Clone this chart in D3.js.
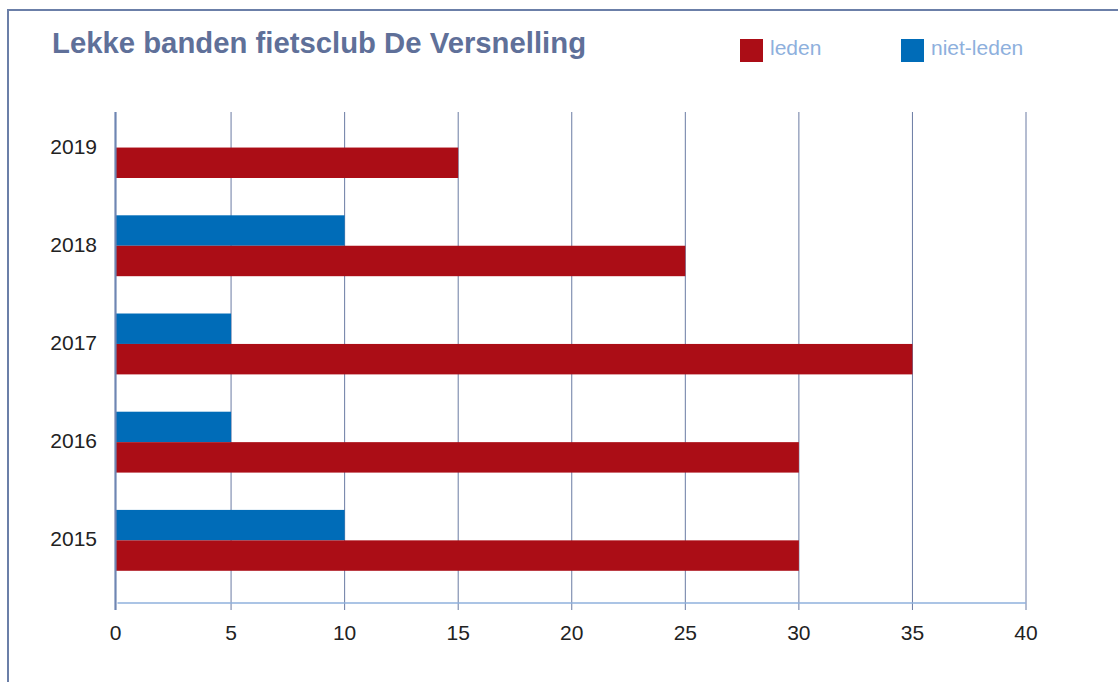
<!DOCTYPE html>
<html>
<head>
<meta charset="utf-8">
<script src="https://cdn.jsdelivr.net/npm/d3@7"></script>
<style>
  html, body { margin: 0; padding: 0; background: #fff; }
  svg { display: block; }
</style>
</head>
<body>
<svg id="chart" width="1118" height="682"></svg>
<script>
const years = ["2019", "2018", "2017", "2016", "2015"];
const series = ["niet-leden", "leden"];
const leden = [15, 25, 35, 30, 30];
const nietLeden = [0, 10, 5, 5, 10];
const xTicks = [0, 5, 10, 15, 20, 25, 30, 35, 40];
const titleText = "Lekke banden fietsclub De Versnelling";

const colors = { "leden": "#ab0d16", "niet-leden": "#006cb8" };
const font = "Liberation Sans, Arial, sans-serif";

const svg = d3.select("#chart");

// frame
svg.append("path")
  .attr("d", "M8,690 L8,10 L1130,10")
  .attr("fill", "none")
  .attr("stroke", "#6b7fa8")
  .attr("stroke-width", 2);

const x = d3.scaleLinear().domain([0, 40]).range([117.5, 1026]);
const y = d3.scaleBand().domain(years).range([112, 603]).padding(0);
const step = y.bandwidth();
const inner = d3.scaleBand().domain(series).range([step * 0.052, step * 0.672]);

// gridlines
svg.append("g").selectAll("line")
  .data(xTicks.slice(1))
  .join("line")
  .attr("x1", d => x(d)).attr("x2", d => x(d))
  .attr("y1", 112).attr("y2", 610)
  .attr("stroke", "#6a7ba3").attr("stroke-width", 1);

// bottom axis line
svg.append("line")
  .attr("x1", x(0)).attr("x2", x(40))
  .attr("y1", 603).attr("y2", 603)
  .attr("stroke", "#8fb0dd").attr("stroke-width", 1.5);

// bars
const rows = years.map((yr, i) => ({ year: yr, values: { "leden": leden[i], "niet-leden": nietLeden[i] } }));
const g = svg.append("g");
rows.forEach(r => {
  series.forEach(s => {
    const v = r.values[s];
    if (!v) return;
    g.append("rect")
      .attr("x", x(0) - 1.5)
      .attr("y", y(r.year) + inner(s))
      .attr("width", x(v) - x(0) + 1.5)
      .attr("height", inner.bandwidth())
      .attr("fill", colors[s]);
  });
});

// zero axis
svg.append("line")
  .attr("x1", x(0) - 2).attr("x2", x(0) - 2)
  .attr("y1", 112).attr("y2", 610)
  .attr("stroke", "#6f86b3").attr("stroke-width", 2.2);

// x tick labels
svg.append("g").selectAll("text")
  .data(xTicks)
  .join("text")
  .attr("x", d => d === 0 ? x(d) - 2 : x(d))
  .attr("y", 640)
  .attr("text-anchor", "middle")
  .attr("font-family", font)
  .attr("font-size", 21)
  .attr("fill", "#222")
  .text(d => d);

// y labels
svg.append("g").selectAll("text")
  .data(years)
  .join("text")
  .attr("x", 97)
  .attr("y", d => y(d) + (inner.range()[0] + inner.range()[1]) / 2 + 6)
  .attr("text-anchor", "end")
  .attr("font-family", font)
  .attr("font-size", 21)
  .attr("fill", "#222")
  .text(d => d);

// title
svg.append("text")
  .attr("x", 52).attr("y", 53)
  .attr("font-family", font)
  .attr("font-size", 29.3)
  .attr("font-weight", "bold")
  .attr("fill", "#5f7099")
  .text(titleText);

// legend
const legendItems = [{ name: "leden", x: 740 }, { name: "niet-leden", x: 901 }];
const lg = svg.append("g").selectAll("g").data(legendItems).join("g");
lg.append("rect")
  .attr("x", d => d.x).attr("y", 39)
  .attr("width", 23).attr("height", 23)
  .attr("fill", d => colors[d.name]);
lg.append("text")
  .attr("x", d => d.x + 30).attr("y", 55)
  .attr("font-family", font)
  .attr("font-size", 21)
  .attr("fill", "#8eb0dd")
  .text(d => d.name);
</script>
</body>
</html>
